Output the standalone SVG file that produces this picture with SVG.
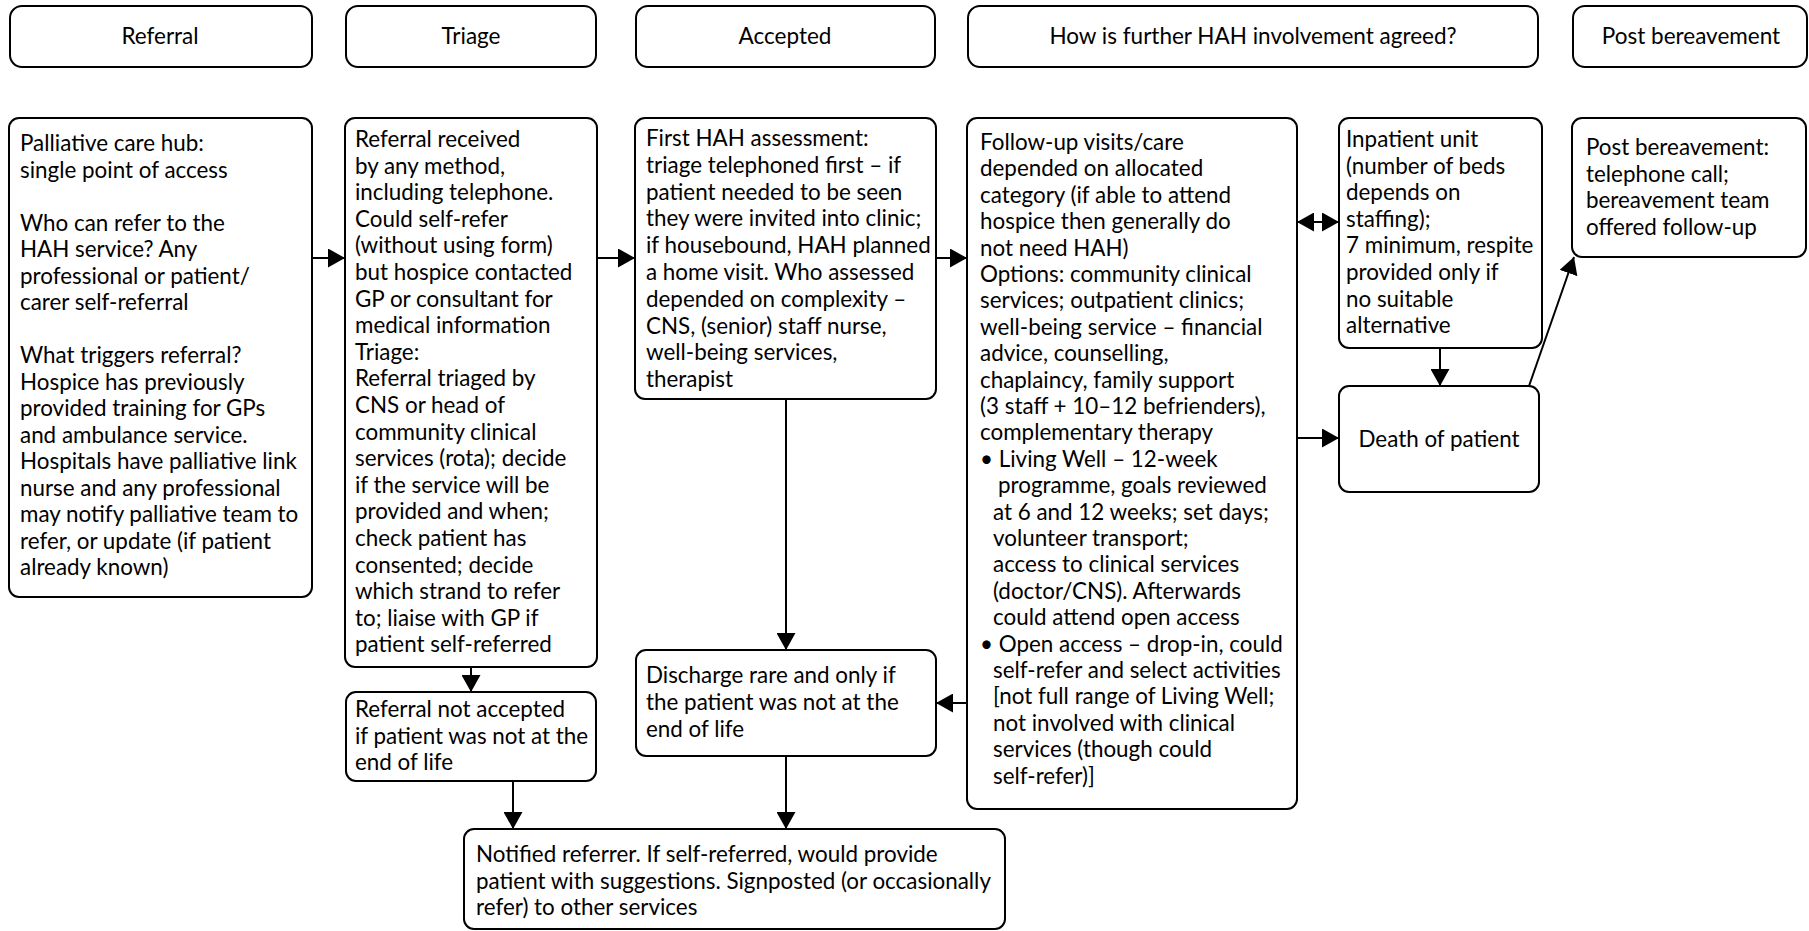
<svg xmlns="http://www.w3.org/2000/svg" width="1809" height="931" viewBox="0 0 1809 931">
<defs>
  <marker id="arr" viewBox="0 0 17 19" refX="17" refY="9.5" markerWidth="17" markerHeight="19" markerUnits="userSpaceOnUse" orient="auto-start-reverse">
    <path d="M0,0 L17,9.5 L0,19 z" fill="#000"/>
  </marker>
  <style>
    .box{fill:#fff;stroke:#000;stroke-width:2}
    .hdr{font-family:Lato,'Noto Sans',sans-serif;font-size:22.5px;text-anchor:middle;fill:#000}
    .t{font-family:Lato,'Noto Sans',sans-serif;font-size:22.4px;fill:#000}
    .c{fill:none;stroke:#000;stroke-width:2;marker-end:url(#arr)}
  </style>
</defs>
<rect width="1809" height="931" fill="#fff"/>

<!-- column headers -->
<g id="hdr-referral"><rect class="box" x="10" y="6" width="302" height="61" rx="12"/><text class="hdr" x="160" y="44">Referral</text></g>
<g id="hdr-triage"><rect class="box" x="346" y="6" width="250" height="61" rx="12"/><text class="hdr" x="471" y="44">Triage</text></g>
<g id="hdr-accepted"><rect class="box" x="636" y="6" width="299" height="61" rx="12"/><text class="hdr" x="785" y="44">Accepted</text></g>
<g id="hdr-involvement"><rect class="box" x="968" y="6" width="570" height="61" rx="12"/><text class="hdr" x="1253" y="44">How is further HAH involvement agreed?</text></g>
<g id="hdr-post"><rect class="box" x="1573" y="6" width="234" height="61" rx="12"/><text class="hdr" x="1691" y="44">Post bereavement</text></g>

<!-- process nodes -->
<g id="referral">
  <rect class="box" x="9" y="118" width="303" height="479" rx="10"/>
  <text class="t">
    <tspan x="20" y="151">Palliative care hub:</tspan>
    <tspan x="20" dy="26.5">single point of access</tspan>
    <tspan x="20" dy="53">Who can refer to the</tspan>
    <tspan x="20" dy="26.5">HAH service? Any</tspan>
    <tspan x="20" dy="26.5">professional or patient/</tspan>
    <tspan x="20" dy="26.5">carer self-referral</tspan>
    <tspan x="20" dy="53">What triggers referral?</tspan>
    <tspan x="20" dy="26.5">Hospice has previously</tspan>
    <tspan x="20" dy="26.5">provided training for GPs</tspan>
    <tspan x="20" dy="26.5">and ambulance service.</tspan>
    <tspan x="20" dy="26.5">Hospitals have palliative link</tspan>
    <tspan x="20" dy="26.5">nurse and any professional</tspan>
    <tspan x="20" dy="26.5">may notify palliative team to</tspan>
    <tspan x="20" dy="26.5">refer, or update (if patient</tspan>
    <tspan x="20" dy="26.5">already known)</tspan>
  </text>
</g>

<g id="triage">
  <rect class="box" x="345" y="118" width="252" height="549" rx="10"/>
  <text class="t">
    <tspan x="355" y="147">Referral received</tspan>
    <tspan x="355" dy="26.6">by any method,</tspan>
    <tspan x="355" dy="26.6">including telephone.</tspan>
    <tspan x="355" dy="26.6">Could self-refer</tspan>
    <tspan x="355" dy="26.6">(without using form)</tspan>
    <tspan x="355" dy="26.6">but hospice contacted</tspan>
    <tspan x="355" dy="26.6">GP or consultant for</tspan>
    <tspan x="355" dy="26.6">medical information</tspan>
    <tspan x="355" dy="26.6">Triage:</tspan>
    <tspan x="355" dy="26.6">Referral triaged by</tspan>
    <tspan x="355" dy="26.6">CNS or head of</tspan>
    <tspan x="355" dy="26.6">community clinical</tspan>
    <tspan x="355" dy="26.6">services (rota); decide</tspan>
    <tspan x="355" dy="26.6">if the service will be</tspan>
    <tspan x="355" dy="26.6">provided and when;</tspan>
    <tspan x="355" dy="26.6">check patient has</tspan>
    <tspan x="355" dy="26.6">consented; decide</tspan>
    <tspan x="355" dy="26.6">which strand to refer</tspan>
    <tspan x="355" dy="26.6">to; liaise with GP if</tspan>
    <tspan x="355" dy="26.6">patient self-referred</tspan>
  </text>
</g>

<g id="not-accepted">
  <rect class="box" x="346" y="692" width="250" height="89" rx="10"/>
  <text class="t">
    <tspan x="355" y="717">Referral not accepted</tspan>
    <tspan x="355" dy="26.6">if patient was not at the</tspan>
    <tspan x="355" dy="26.6">end of life</tspan>
  </text>
</g>

<g id="accepted">
  <rect class="box" x="635" y="118" width="301" height="281" rx="10"/>
  <text class="t">
    <tspan x="646" y="146">First HAH assessment:</tspan>
    <tspan x="646" dy="26.8">triage telephoned first – if</tspan>
    <tspan x="646" dy="26.8">patient needed to be seen</tspan>
    <tspan x="646" dy="26.8">they were invited into clinic;</tspan>
    <tspan x="646" dy="26.8">if housebound, HAH planned</tspan>
    <tspan x="646" dy="26.8">a home visit. Who assessed</tspan>
    <tspan x="646" dy="26.8">depended on complexity –</tspan>
    <tspan x="646" dy="26.8">CNS, (senior) staff nurse,</tspan>
    <tspan x="646" dy="26.8">well-being services,</tspan>
    <tspan x="646" dy="26.8">therapist</tspan>
  </text>
</g>

<g id="discharge">
  <rect class="box" x="636" y="650" width="300" height="106" rx="10"/>
  <text class="t">
    <tspan x="646" y="683">Discharge rare and only if</tspan>
    <tspan x="646" dy="26.8">the patient was not at the</tspan>
    <tspan x="646" dy="26.8">end of life</tspan>
  </text>
</g>

<g id="notified">
  <rect class="box" x="464" y="829" width="541" height="100" rx="10"/>
  <text class="t">
    <tspan x="476" y="862">Notified referrer. If self-referred, would provide</tspan>
    <tspan x="476" dy="26.6">patient with suggestions. Signposted (or occasionally</tspan>
    <tspan x="476" dy="26.6">refer) to other services</tspan>
  </text>
</g>

<g id="follow-up">
  <rect class="box" x="967" y="118" width="330" height="691" rx="10"/>
  <text class="t">
    <tspan x="980" y="150">Follow-up visits/care</tspan>
    <tspan x="980" dy="26.4">depended on allocated</tspan>
    <tspan x="980" dy="26.4">category (if able to attend</tspan>
    <tspan x="980" dy="26.4">hospice then generally do</tspan>
    <tspan x="980" dy="26.4">not need HAH)</tspan>
    <tspan x="980" dy="26.4">Options: community clinical</tspan>
    <tspan x="980" dy="26.4">services; outpatient clinics;</tspan>
    <tspan x="980" dy="26.4">well-being service – financial</tspan>
    <tspan x="980" dy="26.4">advice, counselling,</tspan>
    <tspan x="980" dy="26.4">chaplaincy, family support</tspan>
    <tspan x="980" dy="26.4">(3 staff + 10–12 befrienders),</tspan>
    <tspan x="980" dy="26.4">complementary therapy</tspan>
    <tspan x="980" dy="26.4">• Living Well – 12-week</tspan>
    <tspan x="998" dy="26.4">programme, goals reviewed</tspan>
    <tspan x="993" dy="26.4">at 6 and 12 weeks; set days;</tspan>
    <tspan x="993" dy="26.4">volunteer transport;</tspan>
    <tspan x="993" dy="26.4">access to clinical services</tspan>
    <tspan x="993" dy="26.4">(doctor/CNS). Afterwards</tspan>
    <tspan x="993" dy="26.4">could attend open access</tspan>
    <tspan x="980" dy="26.4">• Open access – drop-in, could</tspan>
    <tspan x="993" dy="26.4">self-refer and select activities</tspan>
    <tspan x="993" dy="26.4">[not full range of Living Well;</tspan>
    <tspan x="993" dy="26.4">not involved with clinical</tspan>
    <tspan x="993" dy="26.4">services (though could</tspan>
    <tspan x="993" dy="26.4">self-refer)]</tspan>
  </text>
</g>

<g id="inpatient">
  <rect class="box" x="1339" y="118" width="203" height="230" rx="10"/>
  <text class="t">
    <tspan x="1346" y="147">Inpatient unit</tspan>
    <tspan x="1346" dy="26.6">(number of beds</tspan>
    <tspan x="1346" dy="26.6">depends on</tspan>
    <tspan x="1346" dy="26.6">staffing);</tspan>
    <tspan x="1346" dy="26.6">7 minimum, respite</tspan>
    <tspan x="1346" dy="26.6">provided only if</tspan>
    <tspan x="1346" dy="26.6">no suitable</tspan>
    <tspan x="1346" dy="26.6">alternative</tspan>
  </text>
</g>

<g id="death">
  <rect class="box" x="1339" y="386" width="200" height="106" rx="10"/>
  <text class="t" x="1439" y="447" text-anchor="middle">Death of patient</text>
</g>

<g id="post-bereavement">
  <rect class="box" x="1572" y="118" width="234" height="139" rx="10"/>
  <text class="t">
    <tspan x="1586" y="155">Post bereavement:</tspan>
    <tspan x="1586" dy="26.7">telephone call;</tspan>
    <tspan x="1586" dy="26.7">bereavement team</tspan>
    <tspan x="1586" dy="26.7">offered follow-up</tspan>
  </text>
</g>

<!-- connectors -->
<g id="connectors">
  <path class="c" d="M312,258 H345"/>
  <path class="c" d="M597,258 H635"/>
  <path class="c" d="M936,258 H967"/>
  <path class="c" d="M1297,222 H1339" style="marker-start:url(#arr)"/>
  <path class="c" d="M1297,438 H1339"/>
  <path class="c" d="M1440,348 V386"/>
  <path class="c" d="M1529,386 L1574,257"/>
  <path class="c" d="M786,399 V650"/>
  <path class="c" d="M967,703 H936"/>
  <path class="c" d="M786,756 V829"/>
  <path class="c" d="M471,667 V692"/>
  <path class="c" d="M513,781 V829"/>
</g>
</svg>
